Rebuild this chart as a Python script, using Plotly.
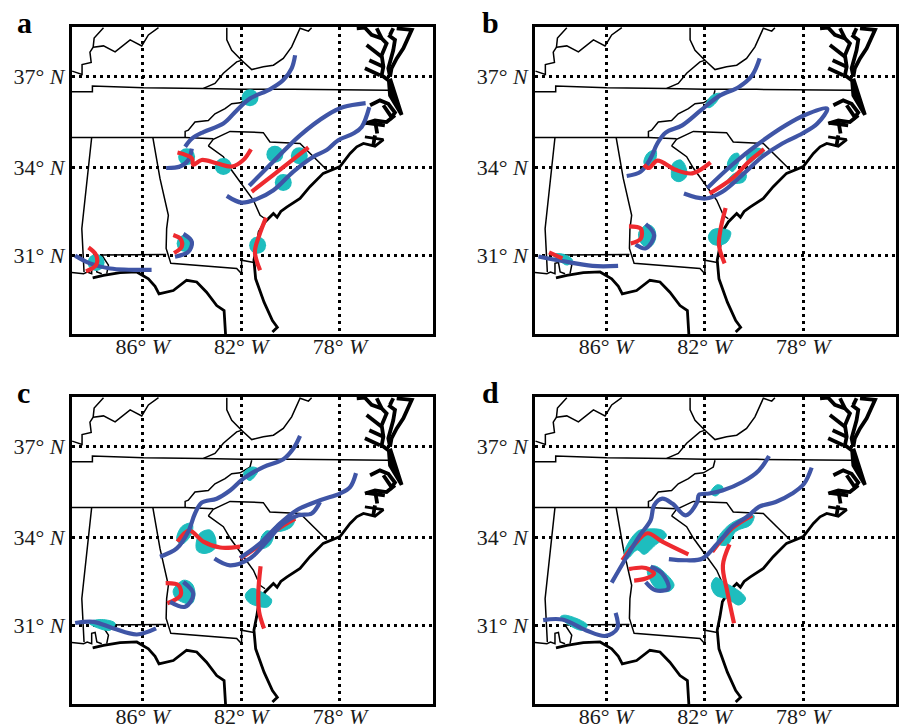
import numpy as np
import plotly.graph_objects as go

# ---------- tick labels ----------
lon_ticks = [-86, -82, -78]
lon_labels = ["86° <i>W</i>", "82° <i>W</i>", "78° <i>W</i>"]
lat_ticks = [31, 34, 37]
lat_labels = ["31° <i>N</i>", "34° <i>N</i>", "37° <i>N</i>"]
panel_letters = ["a", "b", "c", "d"]

# ---------- base map: state borders (lon, lat) ----------
b_tn_north = [(-88.88,36.49),(-88.04,36.49),(-88.04,36.68),(-85.97,36.62),(-83.54,36.60),(-81.99,36.57),(-79.89,36.57),(-76.04,36.54)]
b_ky_west = [(-88.86,37.16),(-88.46,37.05),(-88.46,37.37),(-88.09,37.44),(-88.14,37.77),(-88.01,37.93),(-87.97,38.22),(-87.59,38.55)]
b_ky_north = [(-88.01,37.93),(-87.59,37.97),(-87.12,37.78),(-86.51,38.16),(-86.04,37.97),(-85.77,38.32),(-85.36,38.55)]
b_ky_va = [(-83.54,36.60),(-83.07,36.76),(-82.73,37.09),(-82.19,37.46),(-81.99,37.51),(-81.58,37.21),(-81.11,37.30),(-80.70,37.35),(-80.30,37.57),(-79.96,37.94),(-79.62,38.53),(-79.28,38.44),(-79.15,38.55)]
b_wv = [(-81.99,37.51),(-82.39,37.83),(-82.59,38.16),(-82.59,38.55)]
b_nc_tn = [(-81.58,36.54),(-81.65,36.32),(-82.05,36.13),(-82.39,36.10),(-82.66,35.94),(-83.07,35.77),(-83.34,35.55),(-83.88,35.50),(-84.15,35.23),(-84.28,35.19),(-84.28,34.99)]
b_tn_south = [(-88.88,34.99),(-84.28,34.99),(-83.14,34.95)]
b_sc = [(-83.34,34.71),(-83.14,34.93),(-82.46,35.19),(-81.11,35.15),(-80.84,34.84),(-79.62,34.79),(-78.54,33.91)]
b_ga_sc = [(-83.34,34.71),(-82.73,34.35),(-82.46,33.97),(-82.05,33.51),(-81.51,32.88),(-81.24,32.37),(-81.04,32.25)]
b_al_ms = [(-88.07,34.99),(-88.34,32.94),(-88.47,31.91),(-88.38,30.41)]
b_al_ga_fl = [(-85.59,34.99),(-85.30,33.62),(-84.96,32.37),(-85.03,31.91),(-85.05,31.23),(-84.86,30.71),(-82.19,30.53),(-81.99,30.35),(-81.99,30.82),(-81.49,30.74)]
b_al_fl = [(-85.05,31.02),(-87.66,31.00),(-87.39,30.65),(-87.46,30.35)]

# ---------- base map: coast (lon, lat) ----------
c_atlantic = [(-80.74,28.29),(-80.54,28.46),(-80.74,28.70),(-81.08,29.35),(-81.42,30.17),(-81.49,30.82),(-81.38,31.29),(-81.28,31.80),(-81.04,32.14),(-80.70,32.43),(-80.55,32.30),(-80.40,32.50),(-80.16,32.65),(-79.62,32.94),(-79.22,33.34),(-78.68,33.79),(-78.00,34.02),(-77.59,34.46),(-77.32,34.68),(-77.05,34.79),(-76.58,34.70),(-76.24,34.92),(-76.99,35.01)]
c_neuse = [(-76.58,35.06),(-76.65,34.73)]
c_pamlico = [(-76.95,35.47),(-76.18,35.39)]
c_pamlico2 = [(-76.58,35.55),(-76.49,35.12)]
c_sound = [(-76.99,35.45),(-76.58,35.55),(-76.11,35.50),(-75.77,35.72)]
c_sound2 = [(-76.78,36.05),(-76.38,36.21),(-76.04,36.10),(-75.77,35.81),(-75.91,35.66),(-76.24,36.05)]
c_banks = [(-75.97,36.92),(-75.50,35.74),(-75.97,36.37),(-76.02,36.87),(-75.60,35.90),(-75.90,36.45)]
c_ches1 = [(-77.32,38.53),(-76.99,38.55),(-76.72,38.32),(-76.31,38.21),(-76.11,38.05),(-76.31,37.67),(-76.24,37.30),(-76.31,37.03),(-76.04,36.87)]
c_ches2 = [(-76.92,38.00),(-76.31,37.62)]
c_ches3 = [(-76.81,37.51),(-76.24,37.30)]
c_ches4 = [(-76.99,37.25),(-76.38,37.03)]
c_ches5 = [(-76.51,38.53),(-76.31,38.21)]
c_eastern = [(-76.04,38.32),(-75.77,38.16),(-75.84,37.83),(-76.04,37.25),(-75.97,36.98)]
c_eastern2 = [(-75.70,38.53),(-75.09,38.48),(-75.43,37.89),(-75.70,37.57),(-75.91,37.25),(-75.97,36.98)]
c_delaware = [(-75.84,38.53),(-75.97,38.32)]
c_gulf_west = [(-88.88,30.39),(-88.40,30.35),(-88.25,30.41),(-88.07,30.35),(-88.07,30.71),(-87.93,30.74),(-87.86,30.41),(-87.66,30.35)]
c_gulf = [(-88.03,30.20),(-87.59,30.29),(-86.92,30.39),(-86.24,30.41),(-85.77,30.17),(-85.50,29.91),(-85.34,29.64),(-84.76,29.76),(-84.22,30.12),(-83.81,30.06),(-83.41,29.70),(-83.00,29.23),(-82.70,29.05),(-82.64,28.20)]

# ---------- panel a ----------
a_blue_1 = [(-79.82,37.67),(-79.96,37.25),(-80.30,36.87),(-80.84,36.57),(-81.65,36.27),(-82.19,35.88),(-82.73,35.45),(-83.54,35.17),(-84.01,34.95),(-84.28,34.68)]
a_blue_2 = [(-84.01,34.62),(-84.15,34.24),(-84.49,34.02),(-85.05,33.97)]
a_blue_3 = [(-81.68,33.37),(-80.70,34.19),(-79.62,35.06),(-78.54,35.72),(-77.86,35.99),(-76.96,36.12)]
a_blue_4 = [(-76.81,35.99),(-77.12,35.34),(-77.46,35.12),(-78.07,34.90),(-78.54,34.57),(-79.08,34.35),(-79.89,33.85),(-80.70,33.22),(-81.38,32.92),(-81.99,32.80),(-82.59,33.03)]
a_blue_5 = [(-84.35,31.73),(-84.01,31.46),(-84.15,31.11),(-84.69,30.94)]
a_blue_6 = [(-88.74,30.98),(-88.14,30.71),(-87.32,30.53),(-85.64,30.48)]
a_red_1 = [(-84.59,34.49),(-84.01,34.30),(-83.95,34.08),(-83.61,34.24),(-83.00,34.13),(-82.39,34.02),(-81.92,34.24),(-81.61,34.60)]
a_red_2 = [(-81.58,33.17),(-80.70,33.74),(-79.28,34.66)]
a_red_3 = [(-81.00,32.29),(-81.27,31.69),(-81.45,31.11),(-81.24,30.47)]
a_red_4 = [(-84.76,31.69),(-84.46,31.55),(-84.42,31.29),(-84.73,31.07)]
a_red_5 = [(-88.20,31.26),(-87.89,31.00),(-87.89,30.65),(-88.30,30.43)]
a_spots = [(-81.65,36.30),(-84.22,34.35),(-82.73,34.02),(-80.64,34.43),(-79.65,34.38),(-80.30,33.48),(-81.34,31.34),(-84.28,31.40),(-87.89,30.74)]

# ---------- panel b ----------
b_blue_1 = [(-79.77,37.57),(-80.07,37.03),(-80.61,36.65),(-81.42,36.35),(-82.16,35.88),(-82.91,35.39),(-83.58,35.15),(-83.92,34.79),(-84.19,34.30),(-84.59,33.85),(-85.16,33.70)]
b_blue_2 = [(-81.89,33.30),(-80.88,34.08),(-79.80,34.79),(-78.72,35.39),(-77.91,35.74),(-77.03,35.94),(-77.43,35.45),(-78.04,35.12),(-78.85,34.79),(-79.66,34.35),(-80.47,33.74),(-81.28,33.17),(-81.96,32.94),(-82.84,33.11)]
b_blue_3 = [(-84.39,32.07),(-84.05,31.69),(-84.39,31.23),(-84.80,31.36)]
b_blue_4 = [(-88.74,30.95),(-87.77,30.79),(-86.55,30.62),(-85.51,30.62)]
b_red_1 = [(-84.46,34.08),(-84.26,33.97),(-83.92,34.22),(-83.18,33.91),(-82.50,33.79),(-81.76,34.16)]
b_red_2 = [(-81.80,33.11),(-80.88,33.62),(-80.20,34.19),(-79.59,34.60)]
b_red_3 = [(-81.15,32.62),(-81.35,31.91),(-81.42,31.34),(-81.19,30.71)]
b_red_4 = [(-85.07,31.99),(-84.59,31.91),(-84.59,31.57),(-85.00,31.40)]
b_red_5 = [(-88.31,31.09),(-87.77,30.88)]
b_patch_1 = [(-81.96,36.05),(-81.69,36.38),(-81.35,36.43),(-81.55,36.13),(-81.82,35.97)]
b_patch_2 = [(-84.46,34.13),(-84.32,34.46),(-83.99,34.57),(-83.96,34.35),(-84.19,33.97)]
b_patch_3 = [(-83.35,33.85),(-83.28,34.13),(-82.97,34.24),(-82.77,34.02),(-82.74,33.68),(-83.04,33.51),(-83.31,33.62)]
b_patch_4 = [(-81.08,34.08),(-80.88,34.41),(-80.64,34.46),(-80.61,34.19),(-80.88,33.85)]
b_patch_5 = [(-80.31,34.35),(-80.07,34.60),(-79.73,34.62),(-79.59,34.51),(-79.93,34.30),(-80.20,34.13)]
b_patch_6 = [(-80.88,33.74),(-80.54,33.85),(-80.31,33.74),(-80.41,33.51),(-80.88,33.45),(-81.08,33.51)]
b_patch_7 = [(-81.85,31.63),(-81.69,31.86),(-81.35,31.91),(-80.95,31.80),(-81.08,31.46),(-81.42,31.34),(-81.72,31.40)]
b_patch_8 = [(-84.66,31.80),(-84.32,32.05),(-84.05,31.91),(-83.99,31.57),(-84.19,31.29),(-84.50,31.34),(-84.66,31.57)]
b_patch_9 = [(-88.18,31.02),(-87.70,31.02),(-87.36,30.82),(-87.57,30.65),(-87.91,30.82)]

# ---------- panel c ----------
c_blue_1 = [(-79.62,37.33),(-79.89,36.92),(-80.30,36.57),(-81.11,36.32),(-81.92,35.94),(-82.46,35.55),(-83.00,35.28),(-83.61,35.15),(-83.88,34.79),(-84.15,34.19),(-84.62,33.62),(-85.30,33.34)]
c_blue_2 = [(-77.35,36.12),(-77.59,35.66),(-78.00,35.45),(-78.81,35.23),(-79.76,34.90),(-80.57,34.35),(-81.24,33.79),(-82.05,33.30)]
c_blue_3 = [(-78.81,35.17),(-79.15,34.79),(-79.69,34.73),(-80.30,34.46),(-80.97,33.85),(-81.65,33.28),(-82.46,33.05),(-83.09,33.28)]
c_blue_4 = [(-84.35,32.48),(-83.95,32.08),(-84.28,31.63),(-84.89,31.80)]
c_blue_5 = [(-88.74,31.07),(-87.99,31.11),(-87.18,30.88),(-86.24,30.67),(-85.46,30.88)]
c_red_1 = [(-84.59,33.85),(-84.11,34.22),(-83.54,33.85),(-82.86,33.65),(-82.05,33.68)]
c_red_2 = [(-82.05,33.28),(-81.24,33.74),(-80.57,34.24),(-79.82,34.62)]
c_red_3 = [(-81.22,33.02),(-81.31,32.14),(-81.28,31.46),(-81.08,30.88)]
c_red_4 = [(-85.07,32.44),(-84.55,32.37),(-84.46,32.03),(-85.00,31.75)]
c_patch_1 = [(-81.92,36.10),(-81.58,36.32),(-81.31,36.24),(-81.65,35.88)]
c_patch_2 = [(-84.62,33.91),(-84.42,34.35),(-84.01,34.46),(-84.01,34.13),(-84.42,33.76)]
c_patch_3 = [(-83.84,33.74),(-83.68,34.13),(-83.27,34.24),(-83.07,34.02),(-83.07,33.62),(-83.47,33.45),(-83.78,33.53)]
c_patch_4 = [(-81.20,33.97),(-80.97,34.21),(-80.70,34.13),(-80.84,33.74),(-81.18,33.62)]
c_patch_5 = [(-80.70,34.30),(-80.16,34.57),(-79.82,34.68),(-79.96,34.35),(-80.57,34.19)]
c_patch_6 = [(-81.84,32.03),(-81.58,32.26),(-81.18,32.14),(-80.77,31.86),(-80.91,31.63),(-81.38,31.66),(-81.72,31.80)]
c_patch_7 = [(-84.76,32.20),(-84.35,32.54),(-84.01,32.43),(-83.88,32.08),(-84.01,31.74),(-84.42,31.80),(-84.69,31.97)]
c_patch_8 = [(-88.20,31.09),(-87.66,31.19),(-87.12,31.06),(-87.32,30.82),(-87.86,30.91)]

# ---------- panel d ----------
d_blue_1 = [(-79.39,36.68),(-79.80,36.21),(-80.47,35.83),(-81.28,35.55),(-81.82,35.45),(-82.23,35.41),(-82.30,35.17),(-82.77,34.73),(-83.31,35.12),(-83.72,35.28),(-84.05,35.06),(-84.19,34.57),(-84.66,34.02),(-85.20,33.28),(-85.77,32.46)]
d_blue_2 = [(-77.66,36.30),(-77.97,35.77),(-78.45,35.45),(-79.12,35.17),(-79.80,35.01),(-80.20,34.73),(-80.88,34.35),(-81.28,33.97),(-81.42,33.85),(-82.09,33.28),(-82.77,33.22),(-83.45,33.26)]
d_blue_3 = [(-84.19,33.00),(-83.72,32.77),(-83.47,32.26),(-83.99,32.20),(-84.39,32.48)]
d_blue_4 = [(-88.55,31.17),(-87.77,31.19),(-86.82,30.82),(-86.01,30.62),(-85.54,30.88),(-85.61,31.42)]
d_red_1 = [(-85.34,33.22),(-84.86,33.74),(-84.32,34.13),(-83.72,33.85),(-82.66,33.42)]
d_red_2 = [(-85.07,32.92),(-84.39,32.96),(-84.05,32.77),(-84.39,32.60),(-84.86,32.53)]
d_red_3 = [(-80.99,33.76),(-81.26,33.05),(-81.08,32.14),(-80.81,31.06)]
d_red_4 = [(-81.69,33.51),(-80.88,34.30),(-80.07,34.73)]
d_patch_1 = [(-81.76,35.48),(-81.49,35.74),(-81.26,35.66),(-81.55,35.37)]
d_patch_2 = [(-85.27,33.45),(-84.73,34.19),(-84.32,34.27),(-83.72,34.23),(-83.55,34.05),(-83.99,33.74),(-84.46,33.42),(-84.73,33.57),(-85.14,33.28)]
d_patch_3 = [(-84.32,32.88),(-84.05,33.03),(-83.58,32.77),(-83.24,32.37),(-83.45,32.16),(-83.92,32.23),(-84.19,32.52)]
d_patch_4 = [(-81.49,33.91),(-81.01,34.41),(-80.34,34.68),(-80.00,34.72),(-80.14,34.41),(-80.74,34.19),(-81.08,33.74),(-81.42,33.76)]
d_patch_5 = [(-81.73,32.37),(-81.55,32.63),(-81.22,32.48),(-80.47,32.08),(-80.34,31.89),(-80.61,31.69),(-81.08,31.91),(-81.55,32.03)]
d_patch_6 = [(-87.84,31.29),(-87.64,31.34),(-86.76,31.00),(-86.96,30.82),(-87.50,31.00)]

thin_lines = [b_tn_north, b_ky_west, b_ky_north, b_ky_va, b_wv, b_nc_tn, b_tn_south, b_sc, b_ga_sc, b_al_ms, b_al_ga_fl, b_al_fl, c_gulf_west]
thick_lines = [c_atlantic, c_gulf]
heavy_lines = [c_neuse, c_pamlico, c_pamlico2, c_sound, c_sound2, c_banks, c_ches1, c_ches2, c_ches3, c_ches4, c_ches5, c_eastern, c_eastern2, c_delaware]

panels = [
    dict(blue=[a_blue_1,a_blue_2,a_blue_3,a_blue_4,a_blue_5,a_blue_6], red=[a_red_1,a_red_2,a_red_3,a_red_4,a_red_5], patches=[], spots=a_spots, red_on_top=True),
    dict(blue=[b_blue_1,b_blue_2,b_blue_3,b_blue_4], red=[b_red_1,b_red_2,b_red_3,b_red_4,b_red_5], patches=[b_patch_1,b_patch_2,b_patch_3,b_patch_4,b_patch_5,b_patch_6,b_patch_7,b_patch_8,b_patch_9], spots=[], red_on_top=True),
    dict(blue=[c_blue_1,c_blue_2,c_blue_3,c_blue_4,c_blue_5], red=[c_red_1,c_red_2,c_red_3,c_red_4], patches=[c_patch_1,c_patch_2,c_patch_3,c_patch_4,c_patch_5,c_patch_6,c_patch_7,c_patch_8], spots=[], red_on_top=False),
    dict(blue=[d_blue_1,d_blue_2,d_blue_3,d_blue_4], red=[d_red_1,d_red_2,d_red_3,d_red_4], patches=[d_patch_1,d_patch_2,d_patch_3,d_patch_4,d_patch_5,d_patch_6], spots=[], red_on_top=False),
]

# ---------- styling ----------
W, H = 899, 727
BLUE, RED, TEAL = "#3F55A6", "#EE2A2F", "#1EBDBE"
FONT = "Liberation Serif"
LON_RANGE = [-88.88, -74.24]
LAT_RANGE = [28.22, 38.58]
boxes = [(71.7, 432.7, 26.7, 334), (535, 896, 26.7, 334), (71.7, 432.7, 396.7, 704), (535, 896, 396.7, 704)]
letter_xy = [(15, 22), (480, 22), (15, 392), (480, 392)]


def merc(lat):
    return np.degrees(np.log(np.tan(np.pi / 4 + np.radians(np.asarray(lat, dtype=float)) / 2)))


def joined(lines):
    xs, ys = [], []
    for ln in lines:
        xs += [p[0] for p in ln] + [None]
        ys += [float(merc(p[1])) for p in ln] + [None]
    return xs, ys


fig = go.Figure()
for i, (p, box) in enumerate(zip(panels, boxes)):
    n = "" if i == 0 else str(i + 1)
    xa, ya = f"x{n}", f"y{n}"

    def add(**kw):
        fig.add_trace(go.Scatter(xaxis=xa, yaxis=ya, showlegend=False, hoverinfo="skip", **kw))

    x, y = joined(thin_lines)
    add(x=x, y=y, mode="lines", line=dict(color="black", width=1.5))
    x, y = joined(thick_lines)
    add(x=x, y=y, mode="lines", line=dict(color="black", width=2.8))
    x, y = joined(heavy_lines)
    add(x=x, y=y, mode="lines", line=dict(color="black", width=3.8))
    for patch in p["patches"]:
        ring = patch + patch[:1]
        add(x=[q[0] for q in ring], y=[float(merc(q[1])) for q in ring], mode="lines", fill="toself",
            fillcolor=TEAL, line=dict(color=TEAL, width=1, shape="spline"))
    if p["spots"]:
        add(x=[q[0] for q in p["spots"]], y=[float(merc(q[1])) for q in p["spots"]], mode="markers",
            marker=dict(color=TEAL, size=17))
    order = [("b", BLUE), ("r", RED)] if p["red_on_top"] else [("r", RED), ("b", BLUE)]
    for key, colour in order:
        for ln in (p["blue"] if key == "b" else p["red"]):
            add(x=[q[0] for q in ln], y=[float(merc(q[1])) for q in ln], mode="lines",
                line=dict(color=colour, width=4.2, shape="spline", smoothing=1))

    axis_common = dict(showline=True, mirror=True, linecolor="black", linewidth=2.6, ticks="", automargin=False,
                       showgrid=True, gridcolor="black", gridwidth=3, griddash="3px,4px", zeroline=False,
                       tickfont=dict(family=FONT, size=22, color="#1a1a1a"))
    fig.update_layout({
        f"xaxis{n}": dict(domain=[box[0] / W, box[1] / W], range=LON_RANGE, anchor=ya, tickmode="array",
                          tickvals=lon_ticks, ticktext=lon_labels, ticklabelstandoff=-9, **axis_common),
        f"yaxis{n}": dict(domain=[1 - box[3] / H, 1 - box[2] / H], range=[float(merc(LAT_RANGE[0])), float(merc(LAT_RANGE[1]))],
                          anchor=xa, tickmode="array", tickvals=[float(merc(v)) for v in lat_ticks],
                          ticktext=lat_labels, **axis_common),
    })
    fig.add_annotation(xref="paper", yref="paper", x=letter_xy[i][0] / W, y=1 - letter_xy[i][1] / H, xanchor="left",
                       yanchor="middle", showarrow=False, text=f"<b>{panel_letters[i]}</b>",
                       font=dict(family=FONT, size=30, color="black"))

fig.update_layout(width=W, height=H, autosize=False, margin=dict(l=0, r=0, t=0, b=0), paper_bgcolor="white",
                  plot_bgcolor="white", showlegend=False, hovermode=False)
fig.write_html("out.html", config={"displayModeBar": False}, post_script="document.body.style.margin='0';")
